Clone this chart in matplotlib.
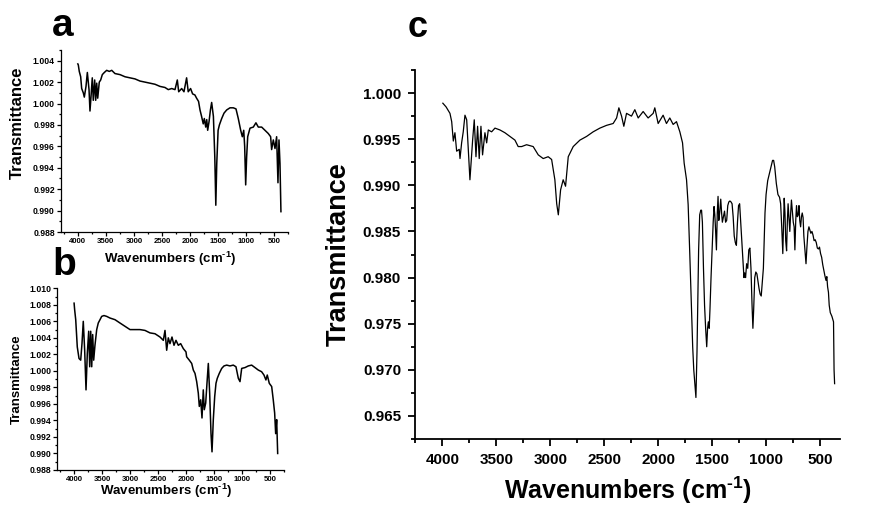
import numpy as np
import matplotlib.pyplot as plt
from matplotlib.ticker import MultipleLocator, FormatStrFormatter

plt.rcParams['font.family'] = ['Liberation Sans', 'DejaVu Sans']
plt.rcParams['font.weight'] = 'bold'
plt.rcParams['mathtext.fontset'] = 'custom'
plt.rcParams['mathtext.rm'] = 'Liberation Sans:bold'
plt.rcParams['mathtext.it'] = 'Liberation Sans:bold'
plt.rcParams['mathtext.bf'] = 'Liberation Sans:bold'

# spectrum a (wavenumber, transmittance)
wn_a = [4000, 3991, 3974, 3949, 3931, 3902, 3884, 3854, 3830, 3800, 3783, 3765,
        3742, 3724, 3699, 3681, 3663, 3645, 3617, 3592, 3563, 3527, 3485, 3438,
        3395, 3337, 3247, 3158, 3069, 2980, 2891, 2801, 2712, 2623, 2534, 2445,
        2386, 2325, 2266, 2225, 2200, 2147, 2106, 2059, 2030, 1988, 1952, 1911,
        1881, 1846, 1820, 1792, 1762, 1743, 1718, 1700, 1683, 1659, 1634, 1612,
        1581, 1556, 1538, 1521, 1497, 1474, 1433, 1392, 1344, 1285, 1226, 1178,
        1137, 1094, 1065, 1040, 1023, 1005, 988, 969, 928, 869, 822, 780, 720,
        661, 602, 560, 542, 512, 482, 453, 429, 411, 393, 376]
t_a = [1.0037, 1.0036, 1.0030, 1.0025, 1.0014, 1.0010, 1.0006, 1.0016, 1.0029,
       1.0013, 0.9993, 1.0006, 1.0024, 1.0003, 1.0022, 1.0003, 1.0019, 1.0005,
       1.0020, 1.0022, 1.0027, 1.0029, 1.0031, 1.0030, 1.0031, 1.0028, 1.0027,
       1.0025, 1.0024, 1.0023, 1.0021, 1.0020, 1.0019, 1.0018, 1.0016, 1.0015,
       1.0013, 1.0014, 1.0013, 1.0022, 1.0011, 1.0014, 1.0011, 1.0024, 1.0011,
       1.0014, 1.0009, 1.0008, 1.0005, 1.0002, 0.9994, 0.9988, 0.9981, 0.9986,
       0.9978, 0.9985, 0.9975, 0.9983, 0.9994, 1.0001, 0.9988, 0.9950, 0.9905,
       0.9944, 0.9975, 0.9980, 0.9986, 0.9991, 0.9994, 0.9996, 0.9996, 0.9995,
       0.9986, 0.9975, 0.9969, 0.9975, 0.9960, 0.9924, 0.9950, 0.9969, 0.9977,
       0.9978, 0.9982, 0.9978, 0.9978, 0.9975, 0.9972, 0.9969, 0.9957, 0.9966,
       0.9958, 0.9969, 0.9926, 0.9966, 0.9944, 0.9899]

# spectrum b
wn_b = [4000, 3990, 3971, 3943, 3912, 3882, 3859, 3836, 3811, 3787, 3764, 3739,
        3721, 3703, 3685, 3668, 3650, 3627, 3596, 3568, 3537, 3507, 3466, 3418,
        3359, 3269, 3181, 3091, 3001, 2912, 2823, 2733, 2644, 2555, 2465, 2406,
        2376, 2346, 2317, 2287, 2251, 2215, 2180, 2138, 2096, 2049, 2001, 1989,
        1942, 1899, 1870, 1840, 1810, 1781, 1763, 1738, 1715, 1692, 1674, 1649,
        1626, 1602, 1578, 1554, 1536, 1513, 1488, 1465, 1442, 1406, 1363, 1322,
        1274, 1215, 1156, 1108, 1066, 1036, 1006, 947, 888, 828, 768, 709, 650,
        608, 573, 549, 513, 470, 442, 417, 399, 381, 363]
t_b = [1.0082, 1.0074, 1.0062, 1.0029, 1.0015, 1.0013, 1.0033, 1.0060, 1.0025,
       0.9977, 1.0021, 1.0048, 1.0005, 1.0048, 1.0005, 1.0044, 1.0013, 1.0031,
       1.0050, 1.0058, 1.0062, 1.0066, 1.0067, 1.0066, 1.0064, 1.0062, 1.0058,
       1.0054, 1.0050, 1.0050, 1.0050, 1.0049, 1.0046, 1.0045, 1.0041, 1.0037,
       1.0049, 1.0025, 1.0040, 1.0033, 1.0041, 1.0031, 1.0037, 1.0031, 1.0033,
       1.0027, 1.0023, 1.0017, 1.0013, 1.0009, 1.0001, 0.9997, 0.9987, 0.9973,
       0.9957, 0.9965, 0.9943, 0.9977, 0.9953, 0.9961, 0.9985, 1.0009, 0.9973,
       0.9924, 0.9902, 0.9941, 0.9969, 0.9985, 0.9991, 0.9997, 1.0003, 1.0006,
       1.0007, 1.0006, 1.0007, 1.0005, 0.9991, 0.9987, 1.0003, 1.0004, 1.0006,
       1.0007, 1.0004, 1.0001, 0.9999, 0.9995, 0.9989, 0.9995, 0.9985, 0.9981,
       0.9965, 0.9949, 0.9924, 0.9941, 0.9900]

# spectrum c
wn_c = [3995, 3965, 3929, 3913, 3898, 3883, 3867, 3843, 3836, 3821, 3806, 3790,
        3774, 3744, 3719, 3704, 3688, 3673, 3658, 3642, 3627, 3605, 3589, 3574,
        3543, 3512, 3466, 3420, 3373, 3327, 3297, 3265, 3219, 3158, 3111, 3065,
        3019, 2987, 2957, 2940, 2925, 2904, 2880, 2858, 2833, 2787, 2725, 2663,
        2602, 2540, 2478, 2417, 2385, 2364, 2339, 2318, 2293, 2247, 2216, 2185,
        2139, 2093, 2046, 2031, 2000, 1954, 1923, 1892, 1861, 1830, 1799, 1774,
        1759, 1737, 1722, 1707, 1690, 1680, 1670, 1660, 1650, 1640, 1632, 1625,
        1615, 1605, 1598, 1590, 1580, 1570, 1560, 1550, 1542, 1535, 1527, 1520,
        1510, 1500, 1490, 1482, 1475, 1468, 1460, 1452, 1445, 1438, 1430, 1420,
        1412, 1405, 1395, 1385, 1375, 1365, 1355, 1345, 1335, 1325, 1315, 1305,
        1295, 1285, 1275, 1265, 1255, 1245, 1235, 1225, 1215, 1205, 1198, 1190,
        1180, 1170, 1160, 1150, 1140, 1130, 1122, 1115, 1105, 1095, 1085, 1075,
        1065, 1055, 1045, 1025, 1010, 1000, 985, 965, 950, 940, 930, 920, 905,
        890, 875, 865, 855, 845, 838, 832, 825, 818, 810, 803, 796, 788, 780,
        772, 765, 757, 748, 740, 733, 725, 718, 710, 702, 695, 688, 680, 672,
        665, 657, 650, 640, 630, 622, 612, 603, 595, 585, 575, 565, 555, 545,
        535, 525, 515, 505, 495, 485, 475, 465, 455, 445, 437, 430, 422, 415,
        405, 397, 390, 382, 375, 370, 365]
t_c = [0.9989, 0.9985, 0.9978, 0.9969, 0.9948, 0.9957, 0.9937, 0.9939, 0.9929,
       0.9946, 0.9958, 0.9976, 0.9971, 0.9906, 0.9949, 0.9971, 0.9931, 0.9964,
       0.9929, 0.9964, 0.9933, 0.9957, 0.9946, 0.9960, 0.9958, 0.9962, 0.9960,
       0.9957, 0.9953, 0.9949, 0.9942, 0.9942, 0.9944, 0.9942, 0.9933, 0.9929,
       0.9931, 0.9928, 0.9906, 0.9880, 0.9868, 0.9895, 0.9906, 0.9899, 0.9931,
       0.9942, 0.9949, 0.9953, 0.9958, 0.9962, 0.9965, 0.9967, 0.9973, 0.9984,
       0.9975, 0.9964, 0.9978, 0.9975, 0.9982, 0.9973, 0.9980, 0.9973, 0.9978,
       0.9984, 0.9967, 0.9976, 0.9967, 0.9973, 0.9966, 0.9969, 0.9958, 0.9946,
       0.9924, 0.9906, 0.9879, 0.9826, 0.9760, 0.9725, 0.9700, 0.9685, 0.9670,
       0.9720, 0.9780, 0.9830, 0.9868, 0.9873, 0.9873, 0.9860, 0.9810, 0.9770,
       0.9745, 0.9725, 0.9745, 0.9752, 0.9745, 0.9765, 0.9800, 0.9830, 0.9860,
       0.9877, 0.9868, 0.9852, 0.9830, 0.9870, 0.9888, 0.9862, 0.9870, 0.9885,
       0.9870, 0.9860, 0.9866, 0.9872, 0.9860, 0.9862, 0.9878, 0.9882, 0.9883,
       0.9882, 0.9880, 0.9866, 0.9845, 0.9838, 0.9835, 0.9860, 0.9878, 0.9880,
       0.9860, 0.9840, 0.9820, 0.9800, 0.9805, 0.9800, 0.9815, 0.9810, 0.9830,
       0.9832, 0.9810, 0.9770, 0.9745, 0.9765, 0.9800, 0.9806, 0.9804, 0.9796,
       0.9788, 0.9782, 0.9780, 0.9810, 0.9870, 0.9890, 0.9905, 0.9915, 0.9922,
       0.9927, 0.9927, 0.9920, 0.9902, 0.9890, 0.9887, 0.9880, 0.9855, 0.9826,
       0.9860, 0.9886, 0.9870, 0.9840, 0.9829, 0.9860, 0.9880, 0.9865, 0.9850,
       0.9870, 0.9884, 0.9872, 0.9860, 0.9855, 0.9830, 0.9862, 0.9878, 0.9866,
       0.9868, 0.9878, 0.9862, 0.9855, 0.9866, 0.9870, 0.9865, 0.9845, 0.9830,
       0.9815, 0.9832, 0.9850, 0.9855, 0.9852, 0.9848, 0.9850, 0.9846, 0.9840,
       0.9841, 0.9838, 0.9832, 0.9831, 0.9833, 0.9826, 0.9822, 0.9814, 0.9808,
       0.9802, 0.9797, 0.9801, 0.9790, 0.9784, 0.9770, 0.9762, 0.9760, 0.9758,
       0.9755, 0.9752, 0.9700, 0.9685]

xlabel = r'Wavenumbers (cm$^{\text{-1}}$)'

fig = plt.figure(figsize=(8.69, 5.05), dpi=100)
W, H = 869, 505
ax_a = fig.add_axes([61 / W, 1 - 232 / H, 227 / W, 182 / H])
ax_b = fig.add_axes([57.3 / W, 1 - 470 / H, 226.7 / W, 181.7 / H])
ax_c = fig.add_axes([415 / W, 1 - 439 / H, 425 / W, 369 / H])


def style(ax, ylim, ymaj, xlim, yfs, xfs, lw, maj_len, pad):
    ax.set_xlim(*xlim)
    ax.set_ylim(*ylim)
    ax.spines['top'].set_visible(False)
    ax.spines['right'].set_visible(False)
    for s in ('left', 'bottom'):
        ax.spines[s].set_linewidth(lw)
    ax.xaxis.set_major_locator(MultipleLocator(500))
    ax.xaxis.set_minor_locator(MultipleLocator(250))
    ax.yaxis.set_major_locator(MultipleLocator(ymaj))
    ax.yaxis.set_minor_locator(MultipleLocator(ymaj / 2))
    ax.yaxis.set_major_formatter(FormatStrFormatter('%.3f'))
    ax.tick_params(which='major', direction='out', length=maj_len, width=lw,
                   pad=pad)
    ax.tick_params(axis='y', labelsize=yfs)
    ax.tick_params(axis='x', labelsize=xfs)
    ax.tick_params(which='minor', direction='out', length=maj_len * 0.55,
                   width=lw)
    for lab in ax.get_xticklabels() + ax.get_yticklabels():
        lab.set_fontweight('bold')


ax_a.plot(wn_a, t_a, color='black', lw=1.1)
style(ax_a, (0.988, 1.005), 0.002, (4300, 250), 6.2, 5.6, 0.9, 3, 1.5)
ax_a.set_ylabel('Transmittance', fontsize=12, fontweight='bold')
ax_a.yaxis.set_label_coords(-0.16, 0.6)
ax_a.set_xlabel(xlabel, fontsize=9.5, fontweight='bold')
ax_a.xaxis.set_label_coords(0.48, -0.1)

ax_b.plot(wn_b, t_b, color='black', lw=1.1)
style(ax_b, (0.988, 1.010), 0.002, (4300, 250), 6.2, 5.6, 0.9, 3, 1.5)
ax_b.set_ylabel('Transmittance', fontsize=9.5, fontweight='bold')
ax_b.yaxis.set_label_coords(-0.15, 0.5)
ax_b.set_xlabel(xlabel, fontsize=9.5, fontweight='bold')
ax_b.xaxis.set_label_coords(0.48, -0.065)

ax_c.plot(wn_c, t_c, color='black', lw=0.9)
style(ax_c, (0.9625, 1.0025), 0.005, (4253, 315), 11, 11, 1.3, 5, 5)
ax_c.set_ylabel('Transmittance', fontsize=19.5, fontweight='bold')
ax_c.yaxis.set_label_coords(-0.15, 0.5)
ax_c.set_xlabel(xlabel, fontsize=18, fontweight='bold')
ax_c.xaxis.label.set_verticalalignment('center')
ax_c.xaxis.set_label_coords(0.5, -0.14)

fig.text(63 / W, 1 - 36 / H, 'a', fontsize=28, fontweight='bold',
         ha='center', va='baseline')
fig.text(64 / W, 1 - 275 / H, 'b', fontsize=28, fontweight='bold',
         ha='center', va='baseline')
fig.text(418 / W, 1 - 37 / H, 'c', fontsize=26, fontweight='bold',
         ha='center', va='baseline')

fig.savefig('out.png', dpi=100)
